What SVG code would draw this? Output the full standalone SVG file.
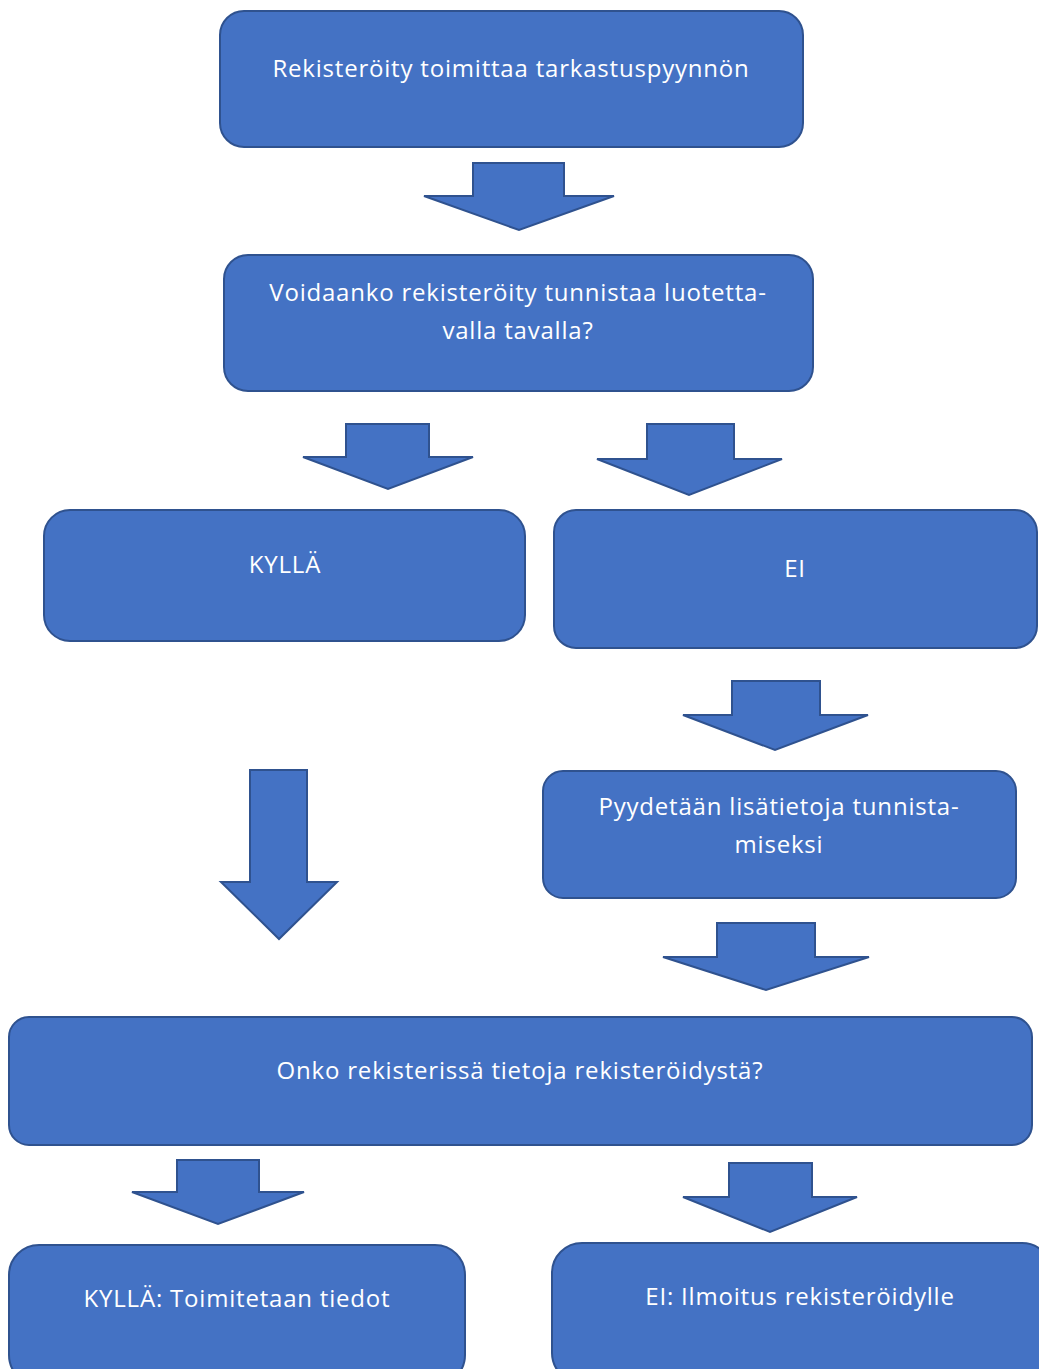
<svg xmlns="http://www.w3.org/2000/svg" width="1039" height="1369" viewBox="0 0 1039 1369">
<style>
.box{fill:#4472C4;stroke:#2F528F;stroke-width:2}
.arr{fill:#4472C4;stroke:#2F528F;stroke-width:2;stroke-linejoin:miter}
.t{font-family:"Open Sans","Noto Sans","Liberation Sans",sans-serif;font-size:24px;letter-spacing:0.8px;fill:#ffffff;text-anchor:middle}
</style>
<rect width="1039" height="1369" fill="#ffffff"/>
<g id="connectors">
<polygon class="arr" points="473,163 564,163 564,196 614,196 519,230 424,196 473,196"/>
<polygon class="arr" points="346,424 429,424 429,457 473,457 388,489 303,457 346,457"/>
<polygon class="arr" points="647,424 734,424 734,459 782,459 689,495 597,459 647,459"/>
<polygon class="arr" points="732,681 820,681 820,715 868,715 775,750 683,715 732,715"/>
<polygon class="arr" points="250,770 307,770 307,882 337,882 279,939 221,882 250,882"/>
<polygon class="arr" points="717,923 815,923 815,957 869,957 766,990 663,957 717,957"/>
<polygon class="arr" points="177,1160 259,1160 259,1192 304,1192 218,1224 132,1192 177,1192"/>
<polygon class="arr" points="729,1163 812,1163 812,1197 857,1197 770,1232 683,1197 729,1197"/>
</g>
<g id="n1"><rect class="box" x="220" y="11" width="583" height="136" rx="24"/><text class="t" x="511" y="77">Rekisteröity toimittaa tarkastuspyynnön</text></g>
<g id="n2"><rect class="box" x="224" y="255" width="589" height="136" rx="24"/><text class="t" x="518" y="301">Voidaanko rekisteröity tunnistaa luotetta-</text><text class="t" x="518" y="339">valla tavalla?</text></g>
<g id="n3"><rect class="box" x="44" y="510" width="481" height="131" rx="26"/><text class="t" x="285" y="573">KYLLÄ</text></g>
<g id="n4"><rect class="box" x="554" y="510" width="483" height="138" rx="22"/><text class="t" x="795" y="577">EI</text></g>
<g id="n5"><rect class="box" x="543" y="771" width="473" height="127" rx="20"/><text class="t" x="779" y="815">Pyydetään lisätietoja tunnista-</text><text class="t" x="779" y="853">miseksi</text></g>
<g id="n6"><rect class="box" x="9" y="1017" width="1023" height="128" rx="20"/><text class="t" x="520" y="1079">Onko rekisterissä tietoja rekisteröidystä?</text></g>
<g id="n7"><rect class="box" x="9" y="1245" width="456" height="140" rx="30"/><text class="t" x="237" y="1307">KYLLÄ: Toimitetaan tiedot</text></g>
<g id="n8"><rect class="box" x="552" y="1243" width="500" height="140" rx="30"/><text class="t" x="800" y="1305">EI: Ilmoitus rekisteröidylle</text></g>
</svg>
